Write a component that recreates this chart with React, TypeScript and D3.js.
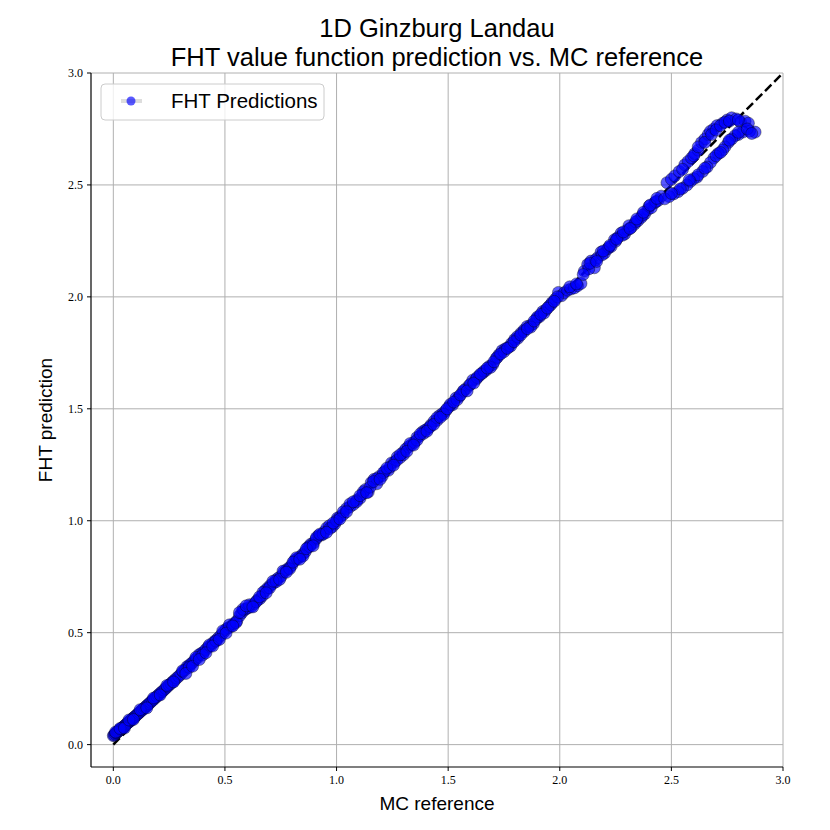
import React, { useEffect, useRef } from 'react';
import * as d3 from 'd3';

// [MC reference, FHT prediction] pairs
const bandLow: [number, number][] = [
  [0.000, 0.040], [0.004, 0.043], [0.008, 0.047], [0.012, 0.051], [0.016, 0.054], [0.020, 0.058],
  [0.024, 0.061], [0.028, 0.065], [0.032, 0.068], [0.036, 0.072], [0.040, 0.075], [0.045, 0.079],
  [0.050, 0.084], [0.055, 0.088], [0.060, 0.093], [0.065, 0.097], [0.070, 0.101], [0.075, 0.106],
  [0.080, 0.110], [0.085, 0.115], [0.090, 0.119], [0.095, 0.124], [0.100, 0.128], [0.106, 0.133],
  [0.112, 0.139], [0.118, 0.144], [0.124, 0.150], [0.130, 0.155], [0.136, 0.161], [0.142, 0.166],
  [0.148, 0.172], [0.154, 0.177], [0.160, 0.183], [0.167, 0.189], [0.174, 0.196], [0.181, 0.202],
  [0.188, 0.209], [0.195, 0.215], [0.202, 0.222], [0.210, 0.229], [0.218, 0.236], [0.226, 0.243],
  [0.234, 0.251], [0.242, 0.258], [0.250, 0.266], [0.258, 0.273], [0.266, 0.281], [0.275, 0.289],
  [0.284, 0.297], [0.293, 0.305], [0.302, 0.314], [0.312, 0.326], [0.322, 0.334], [0.330, 0.348],
  [0.338, 0.352], [0.347, 0.360], [0.356, 0.367], [0.365, 0.378], [0.375, 0.386], [0.385, 0.402],
  [0.395, 0.408], [0.405, 0.414], [0.415, 0.425], [0.425, 0.436], [0.436, 0.441], [0.447, 0.455],
  [0.458, 0.465], [0.470, 0.476], [0.482, 0.488], [0.494, 0.502], [0.505, 0.515],
  [0.010, 0.056], [0.030, 0.072], [0.050, 0.074], [0.070, 0.110], [0.090, 0.112], [0.120, 0.156],
  [0.150, 0.164], [0.180, 0.208], [0.210, 0.222], [0.240, 0.264], [0.270, 0.280],
];

const bandMid: [number, number][] = [
  [0.515, 0.522], [0.527, 0.528], [0.540, 0.540], [0.553, 0.552], [0.565, 0.575], [0.575, 0.588],
  [0.585, 0.600], [0.595, 0.606], [0.607, 0.612], [0.620, 0.618], [0.632, 0.630], [0.645, 0.645],
  [0.657, 0.652], [0.668, 0.665], [0.680, 0.688], [0.692, 0.700], [0.704, 0.712], [0.716, 0.720],
  [0.728, 0.735], [0.740, 0.745], [0.752, 0.752], [0.764, 0.770], [0.776, 0.781], [0.788, 0.790],
  [0.800, 0.802], [0.812, 0.822], [0.824, 0.830], [0.836, 0.838], [0.848, 0.850], [0.860, 0.862],
  [0.872, 0.882], [0.884, 0.895], [0.896, 0.900], [0.908, 0.918], [0.920, 0.934], [0.932, 0.936],
  [0.944, 0.950], [0.956, 0.968], [0.968, 0.978], [0.980, 0.972], [0.992, 0.985],
];

const bandUpper: [number, number][] = [
  [1.004, 1.012], [1.016, 1.018], [1.030, 1.028], [1.045, 1.055], [1.060, 1.062], [1.075, 1.072],
  [1.090, 1.092], [1.105, 1.100], [1.118, 1.120], [1.130, 1.140], [1.142, 1.128], [1.155, 1.170],
  [1.168, 1.185], [1.180, 1.165], [1.192, 1.198], [1.205, 1.200], [1.218, 1.222], [1.232, 1.225],
  [1.246, 1.258], [1.260, 1.262], [1.272, 1.285], [1.285, 1.282], [1.298, 1.305], [1.310, 1.320],
  [1.322, 1.330], [1.335, 1.338], [1.348, 1.350], [1.360, 1.372], [1.373, 1.378], [1.386, 1.398],
  [1.398, 1.405], [1.410, 1.412], [1.423, 1.428], [1.437, 1.445], [1.450, 1.448], [1.462, 1.470],
  [1.476, 1.480], [1.490, 1.492],
  [1.505, 1.510], [1.520, 1.518], [1.535, 1.548], [1.550, 1.555], [1.565, 1.575], [1.580, 1.590],
  [1.595, 1.605], [1.610, 1.628], [1.625, 1.632], [1.640, 1.648], [1.655, 1.660], [1.670, 1.672],
  [1.685, 1.690], [1.700, 1.698], [1.715, 1.725], [1.728, 1.742], [1.742, 1.760], [1.756, 1.768],
  [1.770, 1.775], [1.784, 1.792], [1.798, 1.810], [1.812, 1.815], [1.826, 1.838], [1.840, 1.852],
  [1.854, 1.868], [1.868, 1.872], [1.882, 1.880], [1.896, 1.902], [1.910, 1.912], [1.924, 1.935],
  [1.938, 1.942], [1.952, 1.958], [1.966, 1.975], [1.980, 1.990], [1.994, 2.020], [2.008, 2.005],
];

const bandTop: [number, number][] = [
  [2.020, 2.018], [2.035, 2.030], [2.050, 2.035], [2.065, 2.040], [2.080, 2.050], [2.095, 2.060],
  [2.110, 2.115], [2.125, 2.145], [2.140, 2.160], [2.155, 2.130], [2.170, 2.175], [2.185, 2.200],
  [2.200, 2.195], [2.215, 2.215], [2.230, 2.225], [2.245, 2.255], [2.260, 2.265], [2.275, 2.285],
  [2.290, 2.280], [2.305, 2.300], [2.320, 2.310], [2.335, 2.325], [2.350, 2.340], [2.365, 2.355],
  [2.380, 2.370], [2.395, 2.390], [2.410, 2.398], [2.425, 2.420], [2.440, 2.430], [2.455, 2.450],
];

// further points that give the band its width
const bandSpreadA: [number, number][] = [
  [0.31, 0.330], [0.34, 0.345], [0.37, 0.390], [0.40, 0.400], [0.43, 0.445], [0.46, 0.462],
  [0.49, 0.508], [0.52, 0.535], [0.55, 0.545], [0.58, 0.605], [0.61, 0.625], [0.64, 0.638],
  [0.67, 0.680], [0.70, 0.700], [0.73, 0.728], [0.76, 0.775], [0.79, 0.785], [0.82, 0.835],
  [0.85, 0.843], [0.88, 0.885], [0.91, 0.925], [0.94, 0.940], [0.97, 0.965], [1.00, 1.000],
  [1.03, 1.040], [1.06, 1.075], [1.09, 1.085], [1.12, 1.130], [1.15, 1.150], [1.18, 1.188],
  [1.21, 1.215], [1.24, 1.240], [1.27, 1.270], [1.30, 1.295], [1.33, 1.345], [1.36, 1.360],
  [1.39, 1.390], [1.42, 1.420], [1.45, 1.460], [1.48, 1.475], [1.51, 1.520], [1.54, 1.540],
  [1.57, 1.582], [1.60, 1.610], [1.63, 1.640], [1.66, 1.668], [1.69, 1.685], [1.72, 1.730],
  [1.75, 1.755], [1.78, 1.780], [1.81, 1.822], [1.84, 1.845], [1.87, 1.865], [1.90, 1.910],
  [1.93, 1.928], [1.96, 1.965], [1.99, 2.000], [2.13, 2.125], [2.16, 2.165], [2.19, 2.188],
  [2.22, 2.222], [2.25, 2.248], [2.28, 2.275], [2.31, 2.318], [2.34, 2.335], [2.37, 2.365],
  [2.40, 2.405], [2.43, 2.425],
];

const bandSpreadB: [number, number][] = [
  [0.325, 0.318], [0.355, 0.350], [0.385, 0.380], [0.415, 0.410], [0.445, 0.440], [0.475, 0.470],
  [0.505, 0.498], [0.535, 0.530], [0.565, 0.590], [0.595, 0.620], [0.625, 0.615], [0.655, 0.660],
  [0.685, 0.678], [0.715, 0.730], [0.745, 0.738], [0.775, 0.770], [0.805, 0.815], [0.835, 0.828],
  [0.865, 0.875], [0.895, 0.888], [0.925, 0.940], [0.955, 0.948], [0.985, 0.990], [1.015, 1.008],
  [1.045, 1.040], [1.075, 1.085], [1.105, 1.112], [1.135, 1.125], [1.165, 1.175], [1.195, 1.185],
  [1.225, 1.235], [1.255, 1.248], [1.285, 1.295], [1.315, 1.310], [1.345, 1.338], [1.375, 1.388],
  [1.405, 1.400], [1.435, 1.430], [1.465, 1.462], [1.495, 1.500], [1.525, 1.530], [1.555, 1.562],
  [1.585, 1.580], [1.615, 1.615], [1.645, 1.655], [1.675, 1.682], [1.705, 1.710], [1.735, 1.745],
  [1.765, 1.770], [1.795, 1.800], [1.825, 1.830], [1.855, 1.858], [1.885, 1.892], [1.915, 1.922],
  [1.945, 1.950], [1.975, 1.980], [2.045, 2.045], [2.075, 2.058], [2.105, 2.100], [2.135, 2.150],
  [2.165, 2.158], [2.195, 2.205], [2.225, 2.230], [2.255, 2.258], [2.285, 2.290], [2.315, 2.305],
  [2.345, 2.348], [2.375, 2.378], [2.405, 2.410], [2.435, 2.440],
];

const loopUpper: [number, number][] = [
  [2.480, 2.510], [2.500, 2.525], [2.515, 2.540], [2.535, 2.560], [2.560, 2.590], [2.575, 2.605],
  [2.590, 2.620], [2.605, 2.640], [2.620, 2.655], [2.635, 2.690], [2.650, 2.705], [2.665, 2.725],
  [2.675, 2.740], [2.690, 2.750], [2.705, 2.765], [2.730, 2.776], [2.750, 2.790], [2.770, 2.800],
  [2.790, 2.795], [2.810, 2.780], [2.830, 2.785], [2.845, 2.776],
  [2.550, 2.570], [2.600, 2.630], [2.620, 2.670], [2.650, 2.690], [2.680, 2.725], [2.700, 2.745],
  [2.720, 2.765], [2.740, 2.780], [2.760, 2.785], [2.800, 2.790],
];

const loopLower: [number, number][] = [
  [2.875, 2.736], [2.850, 2.740], [2.820, 2.736], [2.800, 2.725], [2.785, 2.720], [2.770, 2.705],
  [2.755, 2.690], [2.740, 2.670], [2.730, 2.656], [2.710, 2.640], [2.690, 2.620], [2.675, 2.600],
  [2.660, 2.580], [2.640, 2.560], [2.615, 2.535], [2.600, 2.528], [2.585, 2.515], [2.570, 2.500],
  [2.550, 2.485], [2.530, 2.470], [2.510, 2.460], [2.490, 2.448], [2.470, 2.438],
  [2.620, 2.545], [2.650, 2.575], [2.700, 2.630], [2.720, 2.645], [2.760, 2.700], [2.800, 2.735],
  [2.840, 2.750], [2.860, 2.730], [2.580, 2.522], [2.540, 2.482], [2.500, 2.462],
];

const ticks = [0, 0.5, 1.0, 1.5, 2.0, 2.5, 3.0];
const axisDomain: [number, number] = [-0.1, 3.0];
const titleLines = ['1D Ginzburg Landau', 'FHT value function prediction vs. MC reference'];

const App = () => {
  const chartRef = useRef<HTMLDivElement>(null);

  useEffect(() => {
    document.body.style.margin = '0';
    const width = 830;
    const height = 830;
    const left = 91, right = 783, top = 73, bottom = 767;

    const x = d3.scaleLinear().domain(axisDomain).range([left, right]);
    const y = d3.scaleLinear().domain(axisDomain).range([bottom, top]);

    const svg = d3.select(chartRef.current)
      .append('svg')
      .attr('width', width)
      .attr('height', height)
      .style('display', 'block');

    svg.append('rect').attr('width', width).attr('height', height).attr('fill', '#fff');

    // grid
    const grid = svg.append('g').attr('stroke', '#b0b0b0').attr('stroke-width', 1);
    grid.selectAll('.gx').data(ticks).enter().append('line')
      .attr('x1', d => x(d)).attr('x2', d => x(d)).attr('y1', top).attr('y2', bottom);
    grid.selectAll('.gy').data(ticks).enter().append('line')
      .attr('y1', d => y(d)).attr('y2', d => y(d)).attr('x1', left).attr('x2', right);

    // identity line
    svg.append('line')
      .attr('x1', x(0)).attr('y1', y(0)).attr('x2', x(3)).attr('y2', y(3))
      .attr('stroke', '#000').attr('stroke-width', 2.5).attr('stroke-dasharray', '9,4');

    const points = [
      ...bandLow, ...bandMid, ...bandUpper, ...bandTop,
      ...bandSpreadA, ...bandSpreadB, ...loopUpper, ...loopLower,
    ];
    svg.append('g').selectAll('circle').data(points).enter().append('circle')
      .attr('cx', d => x(d[0])).attr('cy', d => y(d[1])).attr('r', 6)
      .attr('fill', '#0000ff').attr('fill-opacity', 0.65)
      .attr('stroke', '#000').attr('stroke-opacity', 0.38).attr('stroke-width', 1);

    // spines
    svg.append('line').attr('x1', left).attr('x2', left).attr('y1', top).attr('y2', bottom)
      .attr('stroke', '#000').attr('stroke-width', 1.2);
    svg.append('line').attr('x1', left).attr('x2', right).attr('y1', bottom).attr('y2', bottom)
      .attr('stroke', '#000').attr('stroke-width', 1.2);

    const fmt = d3.format('.1f');
    const tickFont = "'Liberation Serif', 'DejaVu Serif', serif";
    svg.append('g').selectAll('line').data(ticks).enter().append('line')
      .attr('x1', d => x(d)).attr('x2', d => x(d)).attr('y1', bottom).attr('y2', bottom + 4)
      .attr('stroke', '#000');
    svg.append('g').selectAll('text').data(ticks).enter().append('text')
      .attr('x', d => x(d)).attr('y', bottom + 17).attr('text-anchor', 'middle')
      .attr('font-family', tickFont).attr('font-size', 12).text(d => fmt(d));
    svg.append('g').selectAll('line').data(ticks).enter().append('line')
      .attr('x1', left - 4).attr('x2', left).attr('y1', d => y(d)).attr('y2', d => y(d))
      .attr('stroke', '#000');
    svg.append('g').selectAll('text').data(ticks).enter().append('text')
      .attr('x', left - 8).attr('y', d => y(d) + 4).attr('text-anchor', 'end')
      .attr('font-family', tickFont).attr('font-size', 12).text(d => fmt(d));

    const sans = "'Liberation Sans', 'DejaVu Sans', sans-serif";
    svg.append('text').attr('x', (left + right) / 2).attr('y', 810).attr('text-anchor', 'middle')
      .attr('font-family', sans).attr('font-size', 19).text('MC reference');
    svg.append('text').attr('transform', `translate(52,${(top + bottom) / 2}) rotate(-90)`)
      .attr('text-anchor', 'middle').attr('font-family', sans).attr('font-size', 19)
      .text('FHT prediction');

    svg.append('g').selectAll('text').data(titleLines).enter().append('text')
      .attr('x', (left + right) / 2).attr('y', (d, i) => 37 + i * 29).attr('text-anchor', 'middle')
      .attr('font-family', sans).attr('font-size', 25.5).text(d => d);

    // legend
    const lg = svg.append('g');
    lg.append('rect').attr('x', 101).attr('y', 84).attr('width', 223).attr('height', 36).attr('rx', 4)
      .attr('fill', '#fff').attr('fill-opacity', 0.8).attr('stroke', '#cccccc');
    lg.append('line').attr('x1', 121).attr('x2', 142).attr('y1', 101).attr('y2', 101)
      .attr('stroke', '#dddddd').attr('stroke-width', 4);
    lg.append('circle').attr('cx', 131).attr('cy', 101).attr('r', 4.5)
      .attr('fill', '#0000ff').attr('fill-opacity', 0.65);
    lg.append('text').attr('x', 171).attr('y', 108).attr('font-family', sans).attr('font-size', 20.5)
      .text('FHT Predictions');

    return () => {
      d3.select(chartRef.current).selectAll('*').remove();
    };
  }, []);

  return <div ref={chartRef}></div>;
};

export default App;
